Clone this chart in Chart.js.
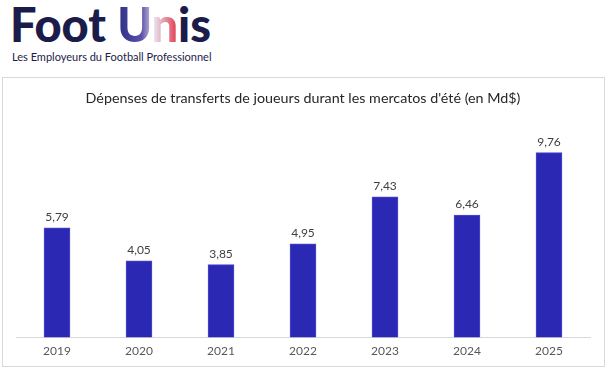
<!DOCTYPE html>
<html>
<head>
<meta charset="utf-8">
<script src="https://cdn.jsdelivr.net/npm/chart.js@4.4.1/dist/chart.umd.min.js"></script>
<style>
  html, body { margin: 0; padding: 0; background: #fff; }
  body { width: 608px; height: 369px; position: relative; overflow: hidden; font-family: Lato, sans-serif; }
  .logo { position: absolute; left: 10px; top: -4px; font-family: Lato, sans-serif; font-weight: 900; font-size: 47px; color: #1b1c4a; white-space: nowrap; }
  .logo .u { background: linear-gradient(90deg, #2a2f86 0%, #5b52a8 40%, #e6e0ec 62%, #e2354a 100%); -webkit-background-clip: text; background-clip: text; color: transparent; }
  .sub { position: absolute; left: 12px; top: 50px; font-family: Lato, sans-serif; font-size: 11px; color: #1b1c4a; white-space: nowrap; }
  .box { position: absolute; left: 2px; top: 77px; width: 601px; height: 288px; border: 1px solid #d9d9d9; }
  #chart { position: absolute; left: 0; top: 0; }
</style>
</head>
<body>
<div class="logo">Foot <span class="u">Un</span>is</div>
<div class="sub">Les Employeurs du Football Professionnel</div>
<div class="box"></div>
<canvas id="chart" width="608" height="369"></canvas>
<script>
const years = ["2019", "2020", "2021", "2022", "2023", "2024", "2025"];
const spending = [5.79, 4.05, 3.85, 4.95, 7.43, 6.46, 9.76];
const chartTitle = "Dépenses de transferts de joueurs durant les mercatos d'été (en Md$)";

// draws the "5,79" style labels above each bar
const valueLabels = {
  id: "valueLabels",
  afterDatasetsDraw(chart) {
    const ctx = chart.ctx;
    const meta = chart.getDatasetMeta(0);
    ctx.save();
    ctx.font = "12px Lato, sans-serif";
    ctx.fillStyle = "#404040";
    ctx.textAlign = "center";
    ctx.textBaseline = "bottom";
    meta.data.forEach((bar, i) => {
      const txt = spending[i].toFixed(2).replace(".", ",");
      ctx.fillText(txt, bar.x, bar.y - 5);
    });
    ctx.restore();
  }
};

new Chart(document.getElementById("chart"), {
  type: "bar",
  data: {
    labels: years,
    datasets: [{
      data: spending,
      backgroundColor: "#2b28b4",
      borderColor: "#4b4ad2",
      borderWidth: 1,
      barThickness: 26
    }]
  },
  options: {
    responsive: false,
    animation: false,
    layout: { padding: { top: 90, left: 16, right: 18, bottom: 5 } },
    plugins: {
      legend: { display: false },
      tooltip: { enabled: false },
      title: {
        display: true,
        text: chartTitle,
        color: "#262626",
        font: { family: "Lato, sans-serif", size: 14.3, weight: "normal" },
        padding: { top: 0, bottom: 22 }
      }
    },
    scales: {
      x: {
        grid: { display: false, drawTicks: false },
        border: { display: true, color: "#d9d9d9", width: 1 },
        ticks: { color: "#595959", font: { family: "Lato, sans-serif", size: 12 }, padding: 6 }
      },
      y: { display: false, min: 0, max: 11 }
    }
  },
  plugins: [valueLabels]
});
</script>
</body>
</html>
